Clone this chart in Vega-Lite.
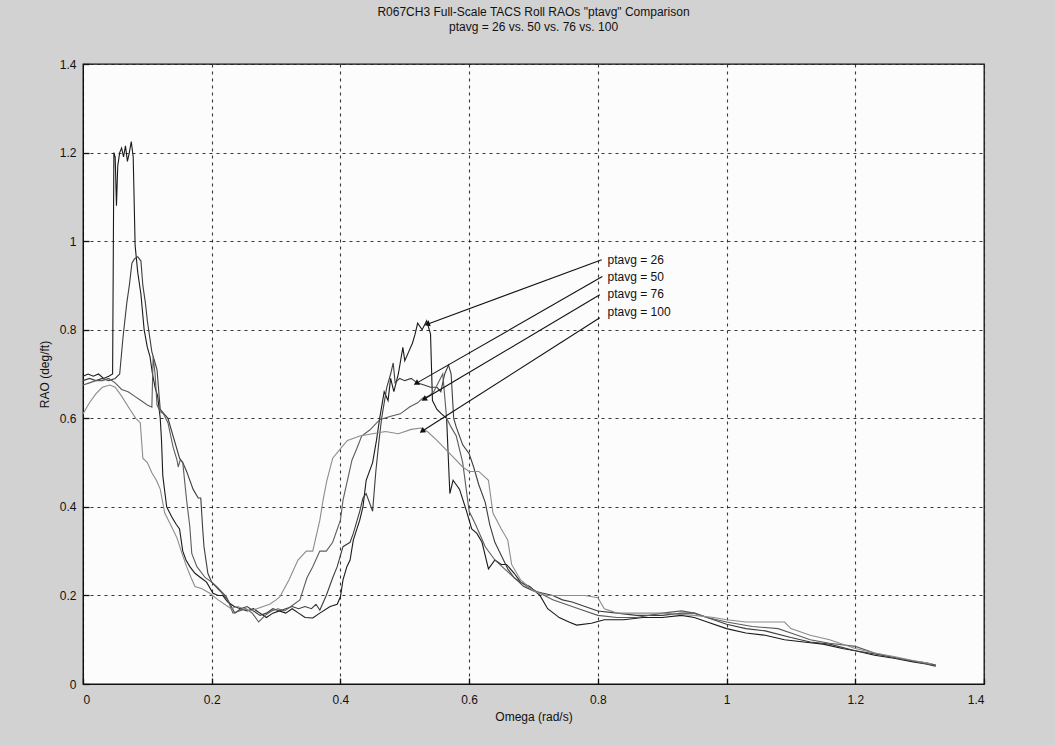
{
  "$schema": "https://vega.github.io/schema/vega-lite/v6.json",
  "width": 901,
  "height": 620,
  "autosize": "none",
  "padding": {"left": 83, "top": 64, "right": 71, "bottom": 61},
  "background": "#d2d2d2",
  "config": {
    "font": "Liberation Sans",
    "view": {"fill": "#fcfcfc", "stroke": "#111", "strokeWidth": 1.3},
    "axis": {
      "labelFont": "Liberation Sans", "labelFontSize": 12, "labelColor": "#111",
      "titleFont": "Liberation Sans", "titleFontSize": 12, "titleFontWeight": "normal", "titleColor": "#111",
      "domainColor": "#111", "tickColor": "#111", "tickSize": -6, "tickWidth": 1.3,
      "gridColor": "#222", "gridDash": [3, 4], "gridWidth": 1.1, "gridOpacity": 0.9
    },
    "title": {"font": "Liberation Sans", "fontSize": 12, "fontWeight": "normal", "color": "#111"}
  },
  "title": {
    "text": ["R067CH3 Full-Scale TACS Roll RAOs \"ptavg\" Comparison", "ptavg = 26 vs. 50 vs. 76 vs. 100"],
    "lineHeight": 15,
    "offset": 24
  },
  "datasets": {
    "ann": [
      {"label": "ptavg = 26", "tx": 0.815, "ty": 0.958, "sx": 0.806, "sy": 0.958, "ex": 0.536, "ey": 0.813},
      {"label": "ptavg = 50", "tx": 0.815, "ty": 0.92, "sx": 0.807, "sy": 0.92, "ex": 0.519, "ey": 0.68},
      {"label": "ptavg = 76", "tx": 0.815, "ty": 0.881, "sx": 0.803, "sy": 0.879, "ex": 0.531, "ey": 0.644},
      {"label": "ptavg = 100", "tx": 0.815, "ty": 0.841, "sx": 0.803, "sy": 0.827, "ex": 0.528, "ey": 0.572}
    ],
    "curves": [
      {"s":"26","w":0,"r":0.695},{"s":"26","w":0.008,"r":0.70},{"s":"26","w":0.016,"r":0.695},{"s":"26","w":0.024,"r":0.70},{"s":"26","w":0.032,"r":0.69},{"s":"26","w":0.04,"r":0.695},{"s":"26","w":0.046,"r":0.70},{"s":"26","w":0.048,"r":1.20},{"s":"26","w":0.050,"r":1.19},{"s":"26","w":0.052,"r":1.08},{"s":"26","w":0.054,"r":1.17},{"s":"26","w":0.057,"r":1.20},{"s":"26","w":0.060,"r":1.21},{"s":"26","w":0.063,"r":1.19},{"s":"26","w":0.066,"r":1.215},{"s":"26","w":0.069,"r":1.18},{"s":"26","w":0.072,"r":1.20},{"s":"26","w":0.075,"r":1.225},{"s":"26","w":0.078,"r":1.19},{"s":"26","w":0.081,"r":0.99},{"s":"26","w":0.085,"r":0.93},{"s":"26","w":0.09,"r":0.88},{"s":"26","w":0.095,"r":0.80},{"s":"26","w":0.1,"r":0.76},{"s":"26","w":0.104,"r":0.74},{"s":"26","w":0.108,"r":0.70},{"s":"26","w":0.112,"r":0.67},{"s":"26","w":0.116,"r":0.65},{"s":"26","w":0.12,"r":0.60},{"s":"26","w":0.122,"r":0.55},{"s":"26","w":0.124,"r":0.47},{"s":"26","w":0.13,"r":0.40},{"s":"26","w":0.138,"r":0.377},{"s":"26","w":0.145,"r":0.36},{"s":"26","w":0.15,"r":0.35},{"s":"26","w":0.155,"r":0.30},{"s":"26","w":0.16,"r":0.28},{"s":"26","w":0.166,"r":0.265},{"s":"26","w":0.174,"r":0.25},{"s":"26","w":0.183,"r":0.24},{"s":"26","w":0.192,"r":0.23},{"s":"26","w":0.202,"r":0.205},{"s":"26","w":0.21,"r":0.20},{"s":"26","w":0.217,"r":0.2},{"s":"26","w":0.225,"r":0.185},{"s":"26","w":0.235,"r":0.175},{"s":"26","w":0.245,"r":0.17},{"s":"26","w":0.255,"r":0.165},{"s":"26","w":0.265,"r":0.17},{"s":"26","w":0.275,"r":0.16},{"s":"26","w":0.285,"r":0.15},{"s":"26","w":0.295,"r":0.16},{"s":"26","w":0.305,"r":0.165},{"s":"26","w":0.315,"r":0.16},{"s":"26","w":0.325,"r":0.17},{"s":"26","w":0.335,"r":0.16},{"s":"26","w":0.345,"r":0.15},{"s":"26","w":0.357,"r":0.149},{"s":"26","w":0.368,"r":0.16},{"s":"26","w":0.384,"r":0.175},{"s":"26","w":0.395,"r":0.18},{"s":"26","w":0.4,"r":0.197},{"s":"26","w":0.404,"r":0.235},{"s":"26","w":0.41,"r":0.265},{"s":"26","w":0.415,"r":0.28},{"s":"26","w":0.42,"r":0.325},{"s":"26","w":0.43,"r":0.37},{"s":"26","w":0.435,"r":0.40},{"s":"26","w":0.44,"r":0.46},{"s":"26","w":0.45,"r":0.50},{"s":"26","w":0.456,"r":0.55},{"s":"26","w":0.461,"r":0.60},{"s":"26","w":0.468,"r":0.66},{"s":"26","w":0.474,"r":0.64},{"s":"26","w":0.478,"r":0.69},{"s":"26","w":0.483,"r":0.66},{"s":"26","w":0.49,"r":0.70},{"s":"26","w":0.497,"r":0.76},{"s":"26","w":0.5,"r":0.73},{"s":"26","w":0.506,"r":0.75},{"s":"26","w":0.512,"r":0.77},{"s":"26","w":0.516,"r":0.79},{"s":"26","w":0.52,"r":0.815},{"s":"26","w":0.527,"r":0.80},{"s":"26","w":0.534,"r":0.82},{"s":"26","w":0.54,"r":0.79},{"s":"26","w":0.543,"r":0.64},{"s":"26","w":0.55,"r":0.62},{"s":"26","w":0.557,"r":0.61},{"s":"26","w":0.565,"r":0.60},{"s":"26","w":0.57,"r":0.43},{"s":"26","w":0.575,"r":0.46},{"s":"26","w":0.585,"r":0.44},{"s":"26","w":0.596,"r":0.39},{"s":"26","w":0.604,"r":0.35},{"s":"26","w":0.612,"r":0.34},{"s":"26","w":0.62,"r":0.32},{"s":"26","w":0.63,"r":0.26},{"s":"26","w":0.64,"r":0.28},{"s":"26","w":0.65,"r":0.27},{"s":"26","w":0.658,"r":0.27},{"s":"26","w":0.67,"r":0.25},{"s":"26","w":0.68,"r":0.23},{"s":"26","w":0.694,"r":0.22},{"s":"26","w":0.71,"r":0.20},{"s":"26","w":0.722,"r":0.17},{"s":"26","w":0.74,"r":0.15},{"s":"26","w":0.755,"r":0.14},{"s":"26","w":0.767,"r":0.133},{"s":"26","w":0.79,"r":0.137},{"s":"26","w":0.81,"r":0.145},{"s":"26","w":0.84,"r":0.145},{"s":"26","w":0.87,"r":0.15},{"s":"26","w":0.9,"r":0.15},{"s":"26","w":0.93,"r":0.155},{"s":"26","w":0.95,"r":0.15},{"s":"26","w":0.97,"r":0.14},{"s":"26","w":1.0,"r":0.125},{"s":"26","w":1.03,"r":0.115},{"s":"26","w":1.06,"r":0.11},{"s":"26","w":1.09,"r":0.10},{"s":"26","w":1.12,"r":0.095},{"s":"26","w":1.15,"r":0.09},{"s":"26","w":1.18,"r":0.08},{"s":"26","w":1.2,"r":0.075},{"s":"26","w":1.23,"r":0.065},{"s":"26","w":1.26,"r":0.058},{"s":"26","w":1.29,"r":0.05},{"s":"26","w":1.31,"r":0.045},{"s":"26","w":1.325,"r":0.04},
      {"s":"50","w":0,"r":0.685},{"s":"50","w":0.01,"r":0.69},{"s":"50","w":0.02,"r":0.685},{"s":"50","w":0.03,"r":0.69},{"s":"50","w":0.04,"r":0.685},{"s":"50","w":0.05,"r":0.69},{"s":"50","w":0.057,"r":0.70},{"s":"50","w":0.062,"r":0.78},{"s":"50","w":0.068,"r":0.86},{"s":"50","w":0.072,"r":0.90},{"s":"50","w":0.076,"r":0.95},{"s":"50","w":0.08,"r":0.96},{"s":"50","w":0.085,"r":0.965},{"s":"50","w":0.09,"r":0.955},{"s":"50","w":0.093,"r":0.90},{"s":"50","w":0.097,"r":0.86},{"s":"50","w":0.1,"r":0.82},{"s":"50","w":0.104,"r":0.78},{"s":"50","w":0.107,"r":0.75},{"s":"50","w":0.115,"r":0.71},{"s":"50","w":0.12,"r":0.62},{"s":"50","w":0.126,"r":0.61},{"s":"50","w":0.132,"r":0.60},{"s":"50","w":0.14,"r":0.56},{"s":"50","w":0.15,"r":0.51},{"s":"50","w":0.155,"r":0.50},{"s":"50","w":0.161,"r":0.48},{"s":"50","w":0.171,"r":0.44},{"s":"50","w":0.179,"r":0.42},{"s":"50","w":0.183,"r":0.42},{"s":"50","w":0.186,"r":0.35},{"s":"50","w":0.188,"r":0.31},{"s":"50","w":0.194,"r":0.25},{"s":"50","w":0.2,"r":0.23},{"s":"50","w":0.213,"r":0.21},{"s":"50","w":0.225,"r":0.19},{"s":"50","w":0.236,"r":0.16},{"s":"50","w":0.245,"r":0.17},{"s":"50","w":0.255,"r":0.175},{"s":"50","w":0.265,"r":0.165},{"s":"50","w":0.275,"r":0.155},{"s":"50","w":0.285,"r":0.16},{"s":"50","w":0.295,"r":0.17},{"s":"50","w":0.305,"r":0.165},{"s":"50","w":0.315,"r":0.17},{"s":"50","w":0.325,"r":0.175},{"s":"50","w":0.335,"r":0.17},{"s":"50","w":0.345,"r":0.175},{"s":"50","w":0.355,"r":0.17},{"s":"50","w":0.362,"r":0.18},{"s":"50","w":0.368,"r":0.167},{"s":"50","w":0.378,"r":0.20},{"s":"50","w":0.388,"r":0.24},{"s":"50","w":0.395,"r":0.265},{"s":"50","w":0.404,"r":0.31},{"s":"50","w":0.415,"r":0.32},{"s":"50","w":0.42,"r":0.34},{"s":"50","w":0.43,"r":0.39},{"s":"50","w":0.435,"r":0.42},{"s":"50","w":0.44,"r":0.43},{"s":"50","w":0.45,"r":0.39},{"s":"50","w":0.455,"r":0.48},{"s":"50","w":0.46,"r":0.55},{"s":"50","w":0.464,"r":0.60},{"s":"50","w":0.472,"r":0.67},{"s":"50","w":0.478,"r":0.70},{"s":"50","w":0.482,"r":0.725},{"s":"50","w":0.485,"r":0.68},{"s":"50","w":0.492,"r":0.69},{"s":"50","w":0.5,"r":0.685},{"s":"50","w":0.51,"r":0.69},{"s":"50","w":0.519,"r":0.68},{"s":"50","w":0.53,"r":0.675},{"s":"50","w":0.54,"r":0.67},{"s":"50","w":0.55,"r":0.67},{"s":"50","w":0.556,"r":0.66},{"s":"50","w":0.562,"r":0.70},{"s":"50","w":0.568,"r":0.72},{"s":"50","w":0.572,"r":0.70},{"s":"50","w":0.576,"r":0.60},{"s":"50","w":0.58,"r":0.58},{"s":"50","w":0.59,"r":0.54},{"s":"50","w":0.6,"r":0.52},{"s":"50","w":0.607,"r":0.49},{"s":"50","w":0.615,"r":0.45},{"s":"50","w":0.625,"r":0.41},{"s":"50","w":0.632,"r":0.36},{"s":"50","w":0.64,"r":0.32},{"s":"50","w":0.65,"r":0.29},{"s":"50","w":0.66,"r":0.26},{"s":"50","w":0.67,"r":0.24},{"s":"50","w":0.685,"r":0.22},{"s":"50","w":0.7,"r":0.21},{"s":"50","w":0.715,"r":0.205},{"s":"50","w":0.73,"r":0.20},{"s":"50","w":0.745,"r":0.19},{"s":"50","w":0.76,"r":0.185},{"s":"50","w":0.78,"r":0.175},{"s":"50","w":0.8,"r":0.165},{"s":"50","w":0.83,"r":0.16},{"s":"50","w":0.86,"r":0.155},{"s":"50","w":0.9,"r":0.155},{"s":"50","w":0.93,"r":0.16},{"s":"50","w":0.95,"r":0.16},{"s":"50","w":0.98,"r":0.145},{"s":"50","w":1.0,"r":0.135},{"s":"50","w":1.03,"r":0.125},{"s":"50","w":1.06,"r":0.12},{"s":"50","w":1.1,"r":0.105},{"s":"50","w":1.13,"r":0.095},{"s":"50","w":1.16,"r":0.09},{"s":"50","w":1.2,"r":0.075},{"s":"50","w":1.23,"r":0.068},{"s":"50","w":1.26,"r":0.06},{"s":"50","w":1.29,"r":0.052},{"s":"50","w":1.31,"r":0.048},{"s":"50","w":1.325,"r":0.043},
      {"s":"76","w":0,"r":0.675},{"s":"76","w":0.01,"r":0.68},{"s":"76","w":0.02,"r":0.685},{"s":"76","w":0.03,"r":0.685},{"s":"76","w":0.04,"r":0.69},{"s":"76","w":0.05,"r":0.68},{"s":"76","w":0.06,"r":0.665},{"s":"76","w":0.07,"r":0.66},{"s":"76","w":0.08,"r":0.65},{"s":"76","w":0.09,"r":0.64},{"s":"76","w":0.1,"r":0.63},{"s":"76","w":0.107,"r":0.625},{"s":"76","w":0.109,"r":0.74},{"s":"76","w":0.112,"r":0.70},{"s":"76","w":0.115,"r":0.63},{"s":"76","w":0.12,"r":0.615},{"s":"76","w":0.125,"r":0.61},{"s":"76","w":0.132,"r":0.59},{"s":"76","w":0.14,"r":0.535},{"s":"76","w":0.146,"r":0.506},{"s":"76","w":0.148,"r":0.49},{"s":"76","w":0.151,"r":0.506},{"s":"76","w":0.155,"r":0.50},{"s":"76","w":0.161,"r":0.415},{"s":"76","w":0.166,"r":0.355},{"s":"76","w":0.169,"r":0.295},{"s":"76","w":0.177,"r":0.265},{"s":"76","w":0.19,"r":0.24},{"s":"76","w":0.2,"r":0.23},{"s":"76","w":0.208,"r":0.22},{"s":"76","w":0.223,"r":0.197},{"s":"76","w":0.233,"r":0.16},{"s":"76","w":0.243,"r":0.165},{"s":"76","w":0.253,"r":0.17},{"s":"76","w":0.263,"r":0.16},{"s":"76","w":0.273,"r":0.14},{"s":"76","w":0.283,"r":0.155},{"s":"76","w":0.293,"r":0.165},{"s":"76","w":0.303,"r":0.17},{"s":"76","w":0.313,"r":0.165},{"s":"76","w":0.323,"r":0.175},{"s":"76","w":0.337,"r":0.19},{"s":"76","w":0.348,"r":0.24},{"s":"76","w":0.357,"r":0.265},{"s":"76","w":0.368,"r":0.30},{"s":"76","w":0.378,"r":0.30},{"s":"76","w":0.388,"r":0.32},{"s":"76","w":0.4,"r":0.37},{"s":"76","w":0.404,"r":0.415},{"s":"76","w":0.418,"r":0.506},{"s":"76","w":0.425,"r":0.53},{"s":"76","w":0.433,"r":0.56},{"s":"76","w":0.446,"r":0.574},{"s":"76","w":0.461,"r":0.597},{"s":"76","w":0.477,"r":0.604},{"s":"76","w":0.493,"r":0.61},{"s":"76","w":0.508,"r":0.626},{"s":"76","w":0.52,"r":0.635},{"s":"76","w":0.528,"r":0.646},{"s":"76","w":0.537,"r":0.65},{"s":"76","w":0.545,"r":0.66},{"s":"76","w":0.552,"r":0.68},{"s":"76","w":0.559,"r":0.70},{"s":"76","w":0.565,"r":0.60},{"s":"76","w":0.572,"r":0.58},{"s":"76","w":0.58,"r":0.56},{"s":"76","w":0.59,"r":0.50},{"s":"76","w":0.6,"r":0.39},{"s":"76","w":0.61,"r":0.36},{"s":"76","w":0.625,"r":0.31},{"s":"76","w":0.64,"r":0.28},{"s":"76","w":0.655,"r":0.26},{"s":"76","w":0.67,"r":0.24},{"s":"76","w":0.69,"r":0.22},{"s":"76","w":0.71,"r":0.205},{"s":"76","w":0.73,"r":0.19},{"s":"76","w":0.75,"r":0.18},{"s":"76","w":0.77,"r":0.17},{"s":"76","w":0.8,"r":0.155},{"s":"76","w":0.83,"r":0.15},{"s":"76","w":0.86,"r":0.15},{"s":"76","w":0.9,"r":0.16},{"s":"76","w":0.93,"r":0.165},{"s":"76","w":0.95,"r":0.16},{"s":"76","w":0.97,"r":0.15},{"s":"76","w":1.0,"r":0.14},{"s":"76","w":1.04,"r":0.13},{"s":"76","w":1.08,"r":0.125},{"s":"76","w":1.1,"r":0.115},{"s":"76","w":1.13,"r":0.10},{"s":"76","w":1.16,"r":0.092},{"s":"76","w":1.2,"r":0.085},{"s":"76","w":1.23,"r":0.07},{"s":"76","w":1.26,"r":0.06},{"s":"76","w":1.29,"r":0.052},{"s":"76","w":1.31,"r":0.046},{"s":"76","w":1.325,"r":0.042},
      {"s":"100","w":0,"r":0.61},{"s":"100","w":0.01,"r":0.635},{"s":"100","w":0.02,"r":0.655},{"s":"100","w":0.03,"r":0.67},{"s":"100","w":0.042,"r":0.675},{"s":"100","w":0.05,"r":0.67},{"s":"100","w":0.06,"r":0.65},{"s":"100","w":0.073,"r":0.62},{"s":"100","w":0.082,"r":0.60},{"s":"100","w":0.089,"r":0.59},{"s":"100","w":0.093,"r":0.51},{"s":"100","w":0.1,"r":0.50},{"s":"100","w":0.107,"r":0.477},{"s":"100","w":0.114,"r":0.46},{"s":"100","w":0.12,"r":0.44},{"s":"100","w":0.127,"r":0.386},{"s":"100","w":0.136,"r":0.36},{"s":"100","w":0.146,"r":0.33},{"s":"100","w":0.155,"r":0.29},{"s":"100","w":0.161,"r":0.265},{"s":"100","w":0.168,"r":0.24},{"s":"100","w":0.174,"r":0.22},{"s":"100","w":0.185,"r":0.215},{"s":"100","w":0.197,"r":0.205},{"s":"100","w":0.21,"r":0.19},{"s":"100","w":0.22,"r":0.18},{"s":"100","w":0.23,"r":0.17},{"s":"100","w":0.24,"r":0.175},{"s":"100","w":0.25,"r":0.17},{"s":"100","w":0.26,"r":0.165},{"s":"100","w":0.27,"r":0.17},{"s":"100","w":0.28,"r":0.175},{"s":"100","w":0.29,"r":0.18},{"s":"100","w":0.3,"r":0.19},{"s":"100","w":0.306,"r":0.197},{"s":"100","w":0.32,"r":0.235},{"s":"100","w":0.334,"r":0.28},{"s":"100","w":0.347,"r":0.30},{"s":"100","w":0.357,"r":0.30},{"s":"100","w":0.368,"r":0.37},{"s":"100","w":0.373,"r":0.415},{"s":"100","w":0.379,"r":0.46},{"s":"100","w":0.388,"r":0.51},{"s":"100","w":0.402,"r":0.535},{"s":"100","w":0.411,"r":0.55},{"s":"100","w":0.43,"r":0.56},{"s":"100","w":0.45,"r":0.565},{"s":"100","w":0.47,"r":0.57},{"s":"100","w":0.49,"r":0.565},{"s":"100","w":0.51,"r":0.575},{"s":"100","w":0.525,"r":0.578},{"s":"100","w":0.535,"r":0.57},{"s":"100","w":0.55,"r":0.55},{"s":"100","w":0.57,"r":0.52},{"s":"100","w":0.59,"r":0.49},{"s":"100","w":0.6,"r":0.48},{"s":"100","w":0.615,"r":0.48},{"s":"100","w":0.63,"r":0.46},{"s":"100","w":0.637,"r":0.386},{"s":"100","w":0.65,"r":0.35},{"s":"100","w":0.66,"r":0.325},{"s":"100","w":0.666,"r":0.27},{"s":"100","w":0.68,"r":0.235},{"s":"100","w":0.7,"r":0.21},{"s":"100","w":0.72,"r":0.20},{"s":"100","w":0.75,"r":0.20},{"s":"100","w":0.78,"r":0.20},{"s":"100","w":0.8,"r":0.195},{"s":"100","w":0.81,"r":0.17},{"s":"100","w":0.83,"r":0.16},{"s":"100","w":0.86,"r":0.16},{"s":"100","w":0.9,"r":0.16},{"s":"100","w":0.95,"r":0.155},{"s":"100","w":0.98,"r":0.15},{"s":"100","w":1.0,"r":0.145},{"s":"100","w":1.03,"r":0.14},{"s":"100","w":1.06,"r":0.14},{"s":"100","w":1.09,"r":0.14},{"s":"100","w":1.1,"r":0.125},{"s":"100","w":1.13,"r":0.11},{"s":"100","w":1.16,"r":0.10},{"s":"100","w":1.2,"r":0.08},{"s":"100","w":1.23,"r":0.07},{"s":"100","w":1.26,"r":0.062},{"s":"100","w":1.29,"r":0.053},{"s":"100","w":1.32,"r":0.045}
    ]
  },
  "layer": [
    {
      "data": {"name": "curves"},
      "mark": {"type": "line", "strokeWidth": 1.1, "interpolate": "linear"},
      "encoding": {
        "x": {"field": "w", "type": "quantitative",
              "scale": {"domain": [0, 1.4], "nice": false, "zero": false},
              "axis": {"title": "Omega (rad/s)", "values": [0, 0.2, 0.4, 0.6, 0.8, 1, 1.2, 1.4], "format": "~g", "labelPadding": 16, "titlePadding": 6}},
        "y": {"field": "r", "type": "quantitative",
              "scale": {"domain": [0, 1.4], "nice": false},
              "axis": {"title": "RAO (deg/ft)", "values": [0, 0.2, 0.4, 0.6, 0.8, 1, 1.2, 1.4], "format": "~g", "labelPadding": 13, "titlePadding": 8}},
        "color": {"field": "s", "type": "nominal",
                  "scale": {"domain": ["26", "50", "76", "100"], "range": ["#1a1a1a", "#3d3d3d", "#5c5c5c", "#8c8c8c"]},
                  "legend": null},
        "detail": {"field": "s"}
      }
    },
    {
      "data": {"name": "ann"},
      "mark": {"type": "rule", "color": "#111", "strokeWidth": 1.1},
      "encoding": {
        "x": {"field": "sx", "type": "quantitative"},
        "y": {"field": "sy", "type": "quantitative"},
        "x2": {"field": "ex"},
        "y2": {"field": "ey"}
      }
    },
    {
      "data": {"name": "ann"},
      "transform": [{"calculate": "atan2((datum.ex - datum.sx) * 644, (datum.ey - datum.sy) * 442.5) * 180 / PI", "as": "ang"}],
      "mark": {"type": "point", "shape": "triangle", "filled": true, "color": "#111", "size": 40, "opacity": 1},
      "encoding": {
        "x": {"field": "ex", "type": "quantitative"},
        "y": {"field": "ey", "type": "quantitative"},
        "angle": {"field": "ang", "type": "quantitative", "scale": null}
      }
    },
    {
      "data": {"name": "ann"},
      "mark": {"type": "text", "align": "left", "baseline": "middle", "fontSize": 12, "font": "Liberation Sans", "color": "#111"},
      "encoding": {
        "x": {"field": "tx", "type": "quantitative"},
        "y": {"field": "ty", "type": "quantitative"},
        "text": {"field": "label"}
      }
    }
  ]
}
